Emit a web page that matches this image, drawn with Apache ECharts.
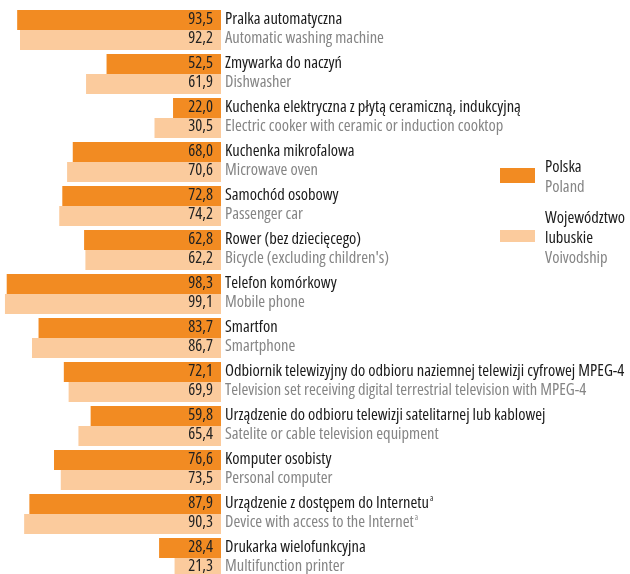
<!DOCTYPE html>
<html>
<head>
<meta charset="utf-8">
<script src="https://cdn.jsdelivr.net/npm/echarts@6/dist/echarts.min.js"></script>
<style>
  html, body { margin: 0; padding: 0; background: #fff; }
  #chart { width: 630px; height: 574px; }
</style>
</head>
<body>
<div id="chart"></div>
<script>
// kategorie (pl / en); '^' = przypis a
const namesPl = [
  'Pralka automatyczna',
  'Zmywarka do naczyń',
  'Kuchenka elektryczna z płytą ceramiczną, indukcyjną',
  'Kuchenka mikrofalowa',
  'Samochód osobowy',
  'Rower (bez dziecięcego)',
  'Telefon komórkowy',
  'Smartfon',
  'Odbiornik telewizyjny do odbioru naziemnej telewizji cyfrowej MPEG-4',
  'Urządzenie do odbioru telewizji satelitarnej lub kablowej',
  'Komputer osobisty',
  'Urządzenie z dostępem do Internetu^',
  'Drukarka wielofunkcyjna'
];
const namesEn = [
  'Automatic washing machine',
  'Dishwasher',
  'Electric cooker with ceramic or induction cooktop',
  'Microwave oven',
  'Passenger car',
  'Bicycle (excluding children\'s)',
  'Mobile phone',
  'Smartphone',
  'Television set receiving digital terrestrial television with MPEG-4',
  'Satelite or cable television equipment',
  'Personal computer',
  'Device with access to the Internet^',
  'Multifunction printer'
];
const polska = [93.5, 52.5, 22.0, 68.0, 72.8, 62.8, 98.3, 83.7, 72.1, 59.8, 76.6, 87.9, 28.4];
const lubuskie = [92.2, 61.9, 30.5, 70.6, 74.2, 62.2, 99.1, 86.7, 69.9, 65.4, 73.5, 90.3, 21.3];

// wąska odmiana Open Sans (font-stretch w skrócie font)
const FAMILY = '"Open Sans", sans-serif';
const STRETCH = 'condensed';
const FS = 16.5;
const ORANGE = '#f28b22';
const PEACH = '#fbcb9d';
const DARK = '#1a1a1a';
const GREY = '#858585';

const chart = echarts.init(document.getElementById('chart'));

function line(style, text) {
  if (text.endsWith('^')) {
    return '{' + style + '|' + text.slice(0, -1) + '}{' + style + 'Sup|a}';
  }
  return '{' + style + '|' + text + '}';
}

function valueLabel(dy) {
  return {
    show: true,
    position: 'insideRight',
    distance: 8,
    offset: [0, dy],
    color: '#222',
    fontFamily: FAMILY,
    fontStyle: STRETCH,
    fontSize: FS,
    formatter: p => p.value.toFixed(1).replace('.', ',')
  };
}

const legendFont = STRETCH + ' ' + FS + 'px ' + FAMILY;

const option = {
  animation: false,
  grid: { left: 3, right: 409, top: 8, bottom: -6, outerBoundsMode: 'none' },
  xAxis: {
    type: 'value',
    min: 0,
    max: 100,
    inverse: true,
    show: false
  },
  yAxis: {
    type: 'category',
    inverse: true,
    position: 'right',
    data: namesPl.map((n, i) => i),
    axisLine: { show: false },
    axisTick: { show: false },
    axisLabel: {
      margin: 4,
      align: 'left',
      padding: [0, 0, 2, 0],
      formatter: v => line('pl', namesPl[v]) + '\n' + line('en', namesEn[v]),
      rich: {
        pl: { fontFamily: FAMILY, fontStyle: STRETCH, fontSize: FS, color: DARK, lineHeight: 19.5 },
        en: { fontFamily: FAMILY, fontStyle: STRETCH, fontSize: FS, color: GREY, lineHeight: 19.5 },
        plSup: { fontFamily: FAMILY, fontStyle: STRETCH, fontSize: 8, color: DARK, lineHeight: 19.5, verticalAlign: 'top', padding: [1, 0, 0, 1] },
        enSup: { fontFamily: FAMILY, fontStyle: STRETCH, fontSize: 8, color: GREY, lineHeight: 19.5, verticalAlign: 'top', padding: [1, 0, 0, 1] }
      }
    }
  },
  series: [
    {
      name: 'Polska',
      type: 'bar',
      data: polska,
      barWidth: 20,
      barGap: '0%',
      itemStyle: { color: ORANGE },
      label: valueLabel(-0.5)
    },
    {
      name: 'Województwo lubuskie',
      type: 'bar',
      data: lubuskie,
      barWidth: 20,
      itemStyle: { color: PEACH },
      label: valueLabel(-1.5)
    }
  ],
  graphic: [
    { type: 'rect', shape: { x: 500, y: 168, width: 35, height: 15 }, style: { fill: ORANGE } },
    { type: 'text', x: 545, y: 167, style: { text: 'Polska', font: legendFont, fill: DARK, verticalAlign: 'middle' } },
    { type: 'text', x: 545, y: 187, style: { text: 'Poland', font: legendFont, fill: GREY, verticalAlign: 'middle' } },
    { type: 'rect', shape: { x: 500, y: 230, width: 35, height: 12 }, style: { fill: PEACH } },
    { type: 'text', x: 545, y: 218, style: { text: 'Województwo', font: legendFont, fill: DARK, verticalAlign: 'middle' } },
    { type: 'text', x: 545, y: 238, style: { text: 'lubuskie', font: legendFont, fill: DARK, verticalAlign: 'middle' } },
    { type: 'text', x: 545, y: 258, style: { text: 'Voivodship', font: legendFont, fill: GREY, verticalAlign: 'middle' } }
  ]
};

chart.setOption(option);

window.addEventListener('resize', () => {
  chart.resize();
});
</script>
</body>
</html>
